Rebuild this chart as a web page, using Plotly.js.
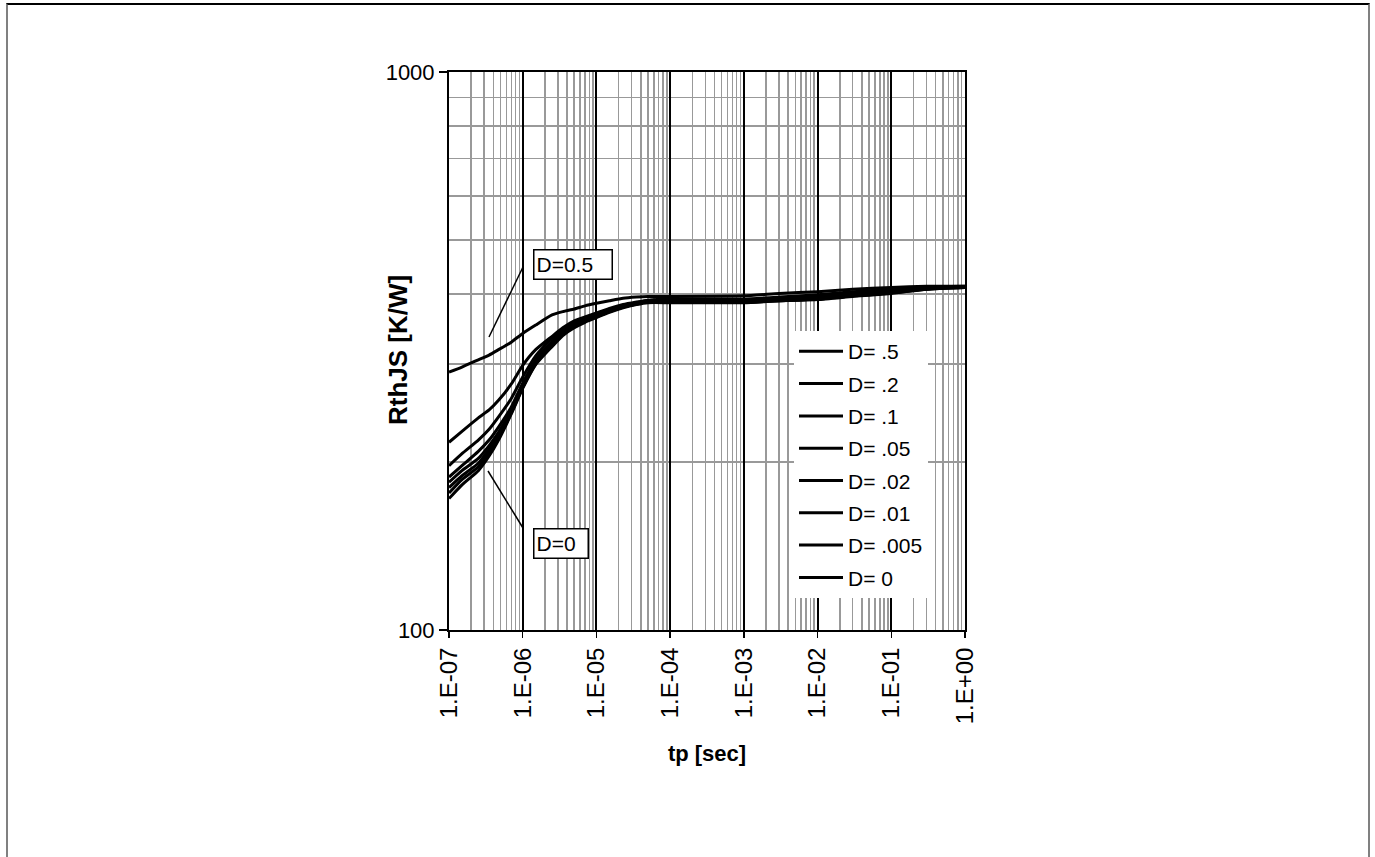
<!DOCTYPE html>
<html>
<head>
<meta charset="utf-8">
<script src="https://cdn.plot.ly/plotly-3.0.1.min.js"></script>
<style>
  html, body { margin: 0; padding: 0; background: #fff; }
  #wrap { position: relative; width: 1375px; height: 857px; overflow: hidden; }
  #chart { position: absolute; left: 0; top: 0; width: 1375px; height: 857px; }
  #frame { position: absolute; left: 6px; top: 3px; width: 1360px; height: 900px;
           border-top: 2px solid #000; border-left: 2px solid #808080; border-right: 2px solid #808080;
           pointer-events: none; }
</style>
</head>
<body>
<div id="wrap">
  <div id="chart"></div>
  <div id="frame"></div>
</div>
<script>
// pulse duration tp [sec]
const tp = [1e-7, 1.5e-7, 2.5e-7, 3.5e-7, 4.7e-7, 7e-7, 1e-6, 1.5e-6, 2.5e-6, 3.5e-6, 5e-6, 7e-6, 1e-5,
            1.5e-5, 2.3e-5, 3.5e-5, 5e-5, 1e-4, 1e-3, 3e-3, 1e-2, 3e-2, 1e-1, 3e-1, 1];

// RthJS [K/W] for each duty cycle
const D_05   = [290, 296, 305, 311, 318, 328, 340, 352, 367, 372, 376, 381, 385, 389, 393, 395, 396, 396, 397, 401, 404, 408, 411, 413, 413];
const D_02   = [217, 227, 240, 248, 258, 276, 298, 318, 336, 348, 358, 364, 370, 377, 383, 387, 390, 392, 392, 395, 399, 404, 408, 412, 413];
const D_01   = [197, 207, 219, 229, 241, 260, 284, 310, 334, 346, 355, 362, 367, 375, 381, 386, 389, 390, 390, 392, 396, 401, 406, 411, 412];
const D_005  = [188, 197, 209, 219, 231, 251, 277, 305, 329, 343, 353, 360, 366, 374, 380, 385, 388, 389, 389, 391, 394, 399, 404, 410, 412];
const D_002  = [184, 193, 203, 214, 226, 248, 275, 303, 327, 341, 351, 359, 365, 373, 380, 385, 388, 388, 388, 390, 393, 398, 403, 409, 412];
const D_001  = [180, 189, 199, 211, 223, 246, 273, 301, 325, 340, 350, 358, 364, 372, 379, 384, 387, 387, 387, 389, 392, 397, 402, 409, 411];
const D_0005 = [176, 186, 196, 208, 221, 245, 272, 300, 324, 339, 349, 357, 364, 372, 379, 384, 387, 387, 387, 389, 392, 397, 402, 408, 411];
const D_0    = [172, 182, 193, 205, 219, 244, 271, 299, 322, 337, 348, 356, 363, 371, 378, 383, 386, 386, 386, 389, 391, 396, 401, 408, 411];

const seriesNames = ["D= .5", "D= .2", "D= .1", "D= .05", "D= .02", "D= .01", "D= .005", "D= 0"];
const seriesData  = [D_05, D_02, D_01, D_005, D_002, D_001, D_0005, D_0];

const xTickVals = [1e-7, 1e-6, 1e-5, 1e-4, 1e-3, 1e-2, 1e-1, 1];
const xTickText = ["1.E-07", "1.E-06", "1.E-05", "1.E-04", "1.E-03", "1.E-02", "1.E-01", "1.E+00"];
const yTickVals = [100, 1000];
const yTickText = ["100", "1000"];

// minor grid positions (2..9 within each decade)
const xMinor = [];
for (let e = -7; e < 0; e++) for (let m = 2; m <= 9; m++) xMinor.push(m * Math.pow(10, e));
const yMinor = [200, 300, 400, 500, 600, 700, 800, 900];

const FONT = "Liberation Sans, Arial, sans-serif";

const traces = seriesNames.map((n, i) => ({
  x: tp, y: seriesData[i], name: n, type: "scatter", mode: "lines",
  line: { color: "#000", width: 3, shape: "spline", smoothing: 0.5 }, legendgroup: "g" + i
}));

const layout = {
  width: 1375, height: 857,
  margin: { l: 449, r: 410, t: 72, b: 227, pad: 0 },
  paper_bgcolor: "#fff", plot_bgcolor: "#fff",
  font: { family: FONT, color: "#000", size: 21 },
  showlegend: true,
  legend: {
    x: (794 - 449) / 516, y: 0.5356, xanchor: "left", yanchor: "top",
    bgcolor: "#fff", borderwidth: 0, font: { family: FONT, size: 21, color: "#000" },
    tracegroupgap: 2, itemwidth: 44, entrywidth: 134
  },
  xaxis: {
    type: "log", range: [-7, 0],
    tickmode: "array", tickvals: xTickVals, ticktext: xTickText, tickangle: -90,
    tickfont: { family: FONT, size: 24, color: "#000" },
    ticks: "outside", ticklen: 6, tickwidth: 1.5, tickcolor: "#000",
    showgrid: true, gridcolor: "#000", gridwidth: 2,
    showline: true, linecolor: "#000", linewidth: 2, mirror: true,
    zeroline: false,
    minor: { tickmode: "array", tickvals: xMinor, showgrid: true, gridcolor: "#999999", gridwidth: 1.5, ticks: "" },
    title: { text: "<b>tp [sec]</b>", font: { family: FONT, size: 22, color: "#000" }, standoff: 22 }
  },
  yaxis: {
    type: "log", range: [2, 3],
    tickmode: "array", tickvals: yTickVals, ticktext: yTickText,
    tickfont: { family: FONT, size: 22, color: "#000" },
    ticks: "outside", ticklen: 8, tickwidth: 1.5, tickcolor: "#000",
    showgrid: false,
    showline: true, linecolor: "#000", linewidth: 2, mirror: true,
    zeroline: false,
    minor: { tickmode: "array", tickvals: yMinor, showgrid: true, gridcolor: "#999999", gridwidth: 1.5, ticks: "" }
  },
  shapes: [
    { type: "line", xref: "paper", yref: "paper",
      x0: (489 - 449) / 516, y0: (630 - 337) / 558, x1: (523 - 449) / 516, y1: (630 - 267) / 558,
      line: { color: "#000", width: 1.5 } },
    { type: "line", xref: "paper", yref: "paper",
      x0: (488 - 449) / 516, y0: (630 - 471) / 558, x1: (523 - 449) / 516, y1: (630 - 528) / 558,
      line: { color: "#000", width: 1.5 } }
  ],
  annotations: [
    { xref: "paper", yref: "paper", x: (533 - 449) / 516, y: (630 - 264.5) / 558,
      xanchor: "left", yanchor: "middle", width: 73, height: 24, align: "left",
      text: "D=0.5", showarrow: false, bgcolor: "#fff", bordercolor: "#000", borderwidth: 1.5, borderpad: 2,
      font: { family: FONT, size: 21, color: "#000" } },
    { xref: "paper", yref: "paper", x: (533 - 449) / 516, y: (630 - 543.5) / 558,
      xanchor: "left", yanchor: "middle", width: 49, height: 24, align: "left",
      text: "D=0", showarrow: false, bgcolor: "#fff", bordercolor: "#000", borderwidth: 1.5, borderpad: 2,
      font: { family: FONT, size: 21, color: "#000" } },
    { xref: "paper", yref: "paper", x: (398 - 449) / 516, y: (630 - 350) / 558,
      xanchor: "center", yanchor: "middle", textangle: -90,
      text: "<b>RthJS [K/W]</b>", showarrow: false,
      font: { family: FONT, size: 26, color: "#000" } }
  ]
};

Plotly.newPlot("chart", traces, layout, { staticPlot: true, displayModeBar: false });
</script>
</body>
</html>
